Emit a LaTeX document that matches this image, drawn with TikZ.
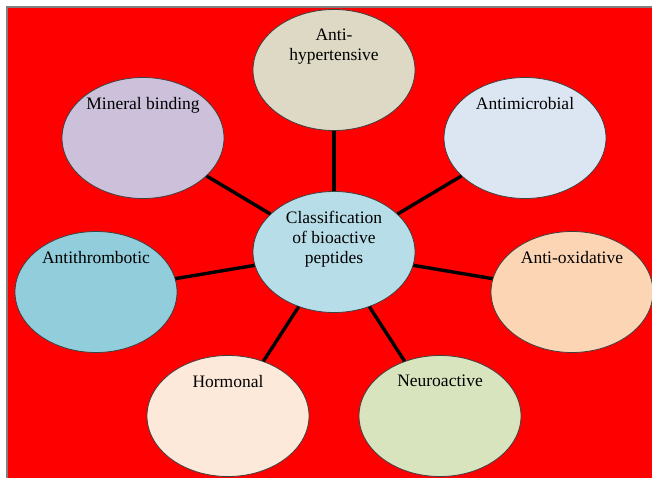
\documentclass[tikz,border=0pt]{standalone}
\usepackage{fontspec}
\setmainfont{Liberation Serif}
\usetikzlibrary{shapes.geometric}

\definecolor{bgred}{HTML}{FF0000}
\definecolor{cpep}{HTML}{B7DEE8}
\definecolor{chyp}{HTML}{DDD9C4}
\definecolor{cmin}{HTML}{CCC0DA}
\definecolor{cmic}{HTML}{DCE6F2}
\definecolor{cthr}{HTML}{92CDDC}
\definecolor{coxi}{HTML}{FCD5B5}
\definecolor{chor}{HTML}{FDE9D9}
\definecolor{cneu}{HTML}{D7E4BD}

\begin{document}
\begin{tikzpicture}[x=1pt, y=-1pt,
    bubble/.style={ellipse, draw=black!75, line width=0.8pt, minimum width=162pt, minimum height=121pt, inner sep=0pt},
    txt/.style={inner sep=0pt, align=center, font=\fontsize{17.5}{20}\selectfont},
    lbl/.style={txt, anchor=north, yshift=-20pt},
    midlbl/.style={txt, anchor=center, yshift=13pt},
    spoke/.style={line width=3.4pt}]

    \useasboundingbox (0,0) rectangle (652,478);
    \fill[white] (0,0) rectangle (652,478);
    \fill[bgred] (8,8) rectangle (652,478);
    \draw[gray, line width=1.5pt] (7.2,478) -- (7.2,7.2) -- (652,7.2);

    \node[bubble, fill=cpep, label={[midlbl]center:Classification\\of bioactive\\peptides}] (pep) at (334,252) {};

    \node[bubble, fill=chyp, label={[lbl]north:Anti-\\hypertensive}] (n1) at (334,70) {};
    \node[bubble, fill=cmic, label={[lbl]north:Antimicrobial}] (n2) at (525,138) {};
    \node[bubble, fill=coxi, label={[lbl]north:Anti-oxidative}] (n3) at (572,292) {};
    \node[bubble, fill=cneu, label={[lbl]north:Neuroactive}] (n4) at (440,416) {};
    \node[bubble, fill=chor, label={[lbl]north:Hormonal}] (n5) at (228,416) {};
    \node[bubble, fill=cthr, label={[lbl]north:Antithrombotic}] (n6) at (96,292) {};
    \node[bubble, fill=cmin, label={[lbl]north:Mineral binding}] (n7) at (143,138) {};

    \foreach \n in {n1,n2,n3,n4,n5,n6,n7}
        \draw[spoke] (pep) -- (\n);

\end{tikzpicture}
\end{document}
